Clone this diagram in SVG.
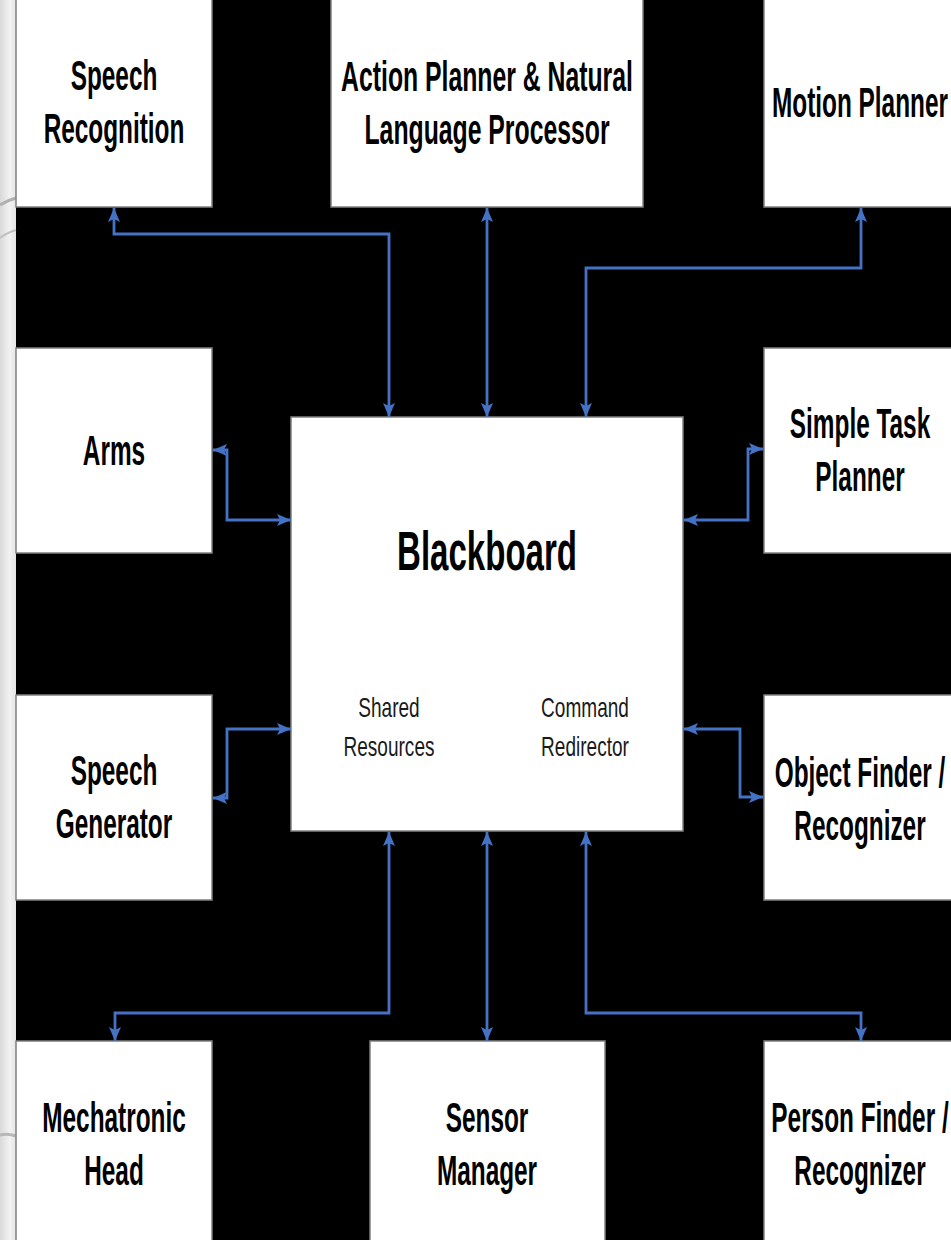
<svg xmlns="http://www.w3.org/2000/svg" width="951" height="1240" viewBox="0 0 951 1240">
<defs>
<linearGradient id="strip" x1="0" y1="0" x2="1" y2="0">
<stop offset="0" stop-color="#d9d9d9"/>
<stop offset="0.6" stop-color="#f2f2f2"/>
<stop offset="1" stop-color="#e6e6e6"/>
</linearGradient>
<marker id="ah" viewBox="0 0 14 12" markerWidth="14" markerHeight="12" refX="14" refY="6" markerUnits="userSpaceOnUse" orient="auto-start-reverse">
<path d="M0,0 L14,6 L0,12 L3,6 z" fill="#4472C4"/>
</marker>
</defs>
<style>
.box{fill:#ffffff;stroke:#808080;stroke-width:1.5}
.lbl{font-family:"Liberation Sans",Arial,sans-serif;font-weight:bold;font-size:42px;fill:#000;text-anchor:middle}
.big{font-family:"Liberation Sans",Arial,sans-serif;font-weight:bold;font-size:56px;fill:#000;text-anchor:middle}
.sub{font-family:"Liberation Sans",Arial,sans-serif;font-size:28px;fill:#1a1a1a;text-anchor:middle}
.con{fill:none;stroke:#4472C4;stroke-width:2.8;marker-start:url(#ah);marker-end:url(#ah)}
</style>
<rect x="0" y="0" width="951" height="1240" fill="#000"/>
<rect x="0" y="0" width="16" height="1240" fill="url(#strip)"/>
<path d="M0,205 Q8,200 16,198" stroke="#b0b0b0" stroke-width="3" fill="none"/>
<path d="M0,238 Q8,232 16,230" stroke="#c0c0c0" stroke-width="2" fill="none"/>
<path d="M0,1135 Q8,1133 16,1136" stroke="#b8b8b8" stroke-width="3" fill="none"/>

<g id="speech-recognition">
<rect class="box" x="16" y="-2" width="196" height="209"/>
<text class="lbl" transform="matrix(0.58,0,0,1,114,0)" x="0" y="90">Speech</text>
<text class="lbl" transform="matrix(0.58,0,0,1,114,0)" x="0" y="143">Recognition</text>
</g>
<g id="action-planner">
<rect class="box" x="331" y="-2" width="312" height="209"/>
<text class="lbl" transform="matrix(0.59,0,0,1,487,0)" x="0" y="91">Action Planner &amp; Natural</text>
<text class="lbl" transform="matrix(0.59,0,0,1,487,0)" x="0" y="144">Language Processor</text>
</g>
<g id="motion-planner">
<rect class="box" x="764" y="-2" width="190" height="209"/>
<text class="lbl" transform="matrix(0.58,0,0,1,860,0)" x="0" y="117">Motion Planner</text>
</g>
<g id="arms">
<rect class="box" x="16" y="348" width="196" height="205"/>
<text class="lbl" transform="matrix(0.58,0,0,1,114,0)" x="0" y="465">Arms</text>
</g>
<g id="blackboard">
<rect class="box" x="291" y="417" width="392" height="414"/>
<text class="big" transform="matrix(0.59,0,0,1,487,0)" x="0" y="570">Blackboard</text>
<text class="sub" transform="matrix(0.68,0,0,1,389,0)" x="0" y="717">Shared</text>
<text class="sub" transform="matrix(0.68,0,0,1,389,0)" x="0" y="756">Resources</text>
<text class="sub" transform="matrix(0.68,0,0,1,585,0)" x="0" y="717">Command</text>
<text class="sub" transform="matrix(0.68,0,0,1,585,0)" x="0" y="756">Redirector</text>
</g>
<g id="simple-task-planner">
<rect class="box" x="764" y="348" width="190" height="205"/>
<text class="lbl" transform="matrix(0.58,0,0,1,860,0)" x="0" y="438">Simple Task</text>
<text class="lbl" transform="matrix(0.58,0,0,1,860,0)" x="0" y="491">Planner</text>
</g>
<g id="speech-generator">
<rect class="box" x="16" y="695" width="196" height="205"/>
<text class="lbl" transform="matrix(0.58,0,0,1,114,0)" x="0" y="785">Speech</text>
<text class="lbl" transform="matrix(0.58,0,0,1,114,0)" x="0" y="838">Generator</text>
</g>
<g id="object-finder">
<rect class="box" x="764" y="695" width="190" height="205"/>
<text class="lbl" transform="matrix(0.58,0,0,1,860,0)" x="0" y="787">Object Finder /</text>
<text class="lbl" transform="matrix(0.58,0,0,1,860,0)" x="0" y="840">Recognizer</text>
</g>
<g id="mechatronic-head">
<rect class="box" x="16" y="1041" width="196" height="202"/>
<text class="lbl" transform="matrix(0.58,0,0,1,114,0)" x="0" y="1132">Mechatronic</text>
<text class="lbl" transform="matrix(0.58,0,0,1,114,0)" x="0" y="1185">Head</text>
</g>
<g id="sensor-manager">
<rect class="box" x="370" y="1041" width="235" height="202"/>
<text class="lbl" transform="matrix(0.58,0,0,1,487,0)" x="0" y="1132">Sensor</text>
<text class="lbl" transform="matrix(0.58,0,0,1,487,0)" x="0" y="1185">Manager</text>
</g>
<g id="person-finder">
<rect class="box" x="764" y="1041" width="190" height="202"/>
<text class="lbl" transform="matrix(0.58,0,0,1,860,0)" x="0" y="1132">Person Finder /</text>
<text class="lbl" transform="matrix(0.58,0,0,1,860,0)" x="0" y="1185">Recognizer</text>
</g>

<g id="connectors">
<path class="con" d="M114,208 V234 H389 V417"/>
<path class="con" d="M487,208 V417"/>
<path class="con" d="M861,208 V268 H586 V417"/>
<path class="con" d="M213,450 H227 V520 H291"/>
<path class="con" d="M763,449 H748 V520 H684"/>
<path class="con" d="M291,729 H227 V798 H213"/>
<path class="con" d="M684,729 H740 V797 H763"/>
<path class="con" d="M389,832 V1013 H115 V1041"/>
<path class="con" d="M487,832 V1041"/>
<path class="con" d="M586,832 V1013 H861 V1041"/>
</g>
</svg>
